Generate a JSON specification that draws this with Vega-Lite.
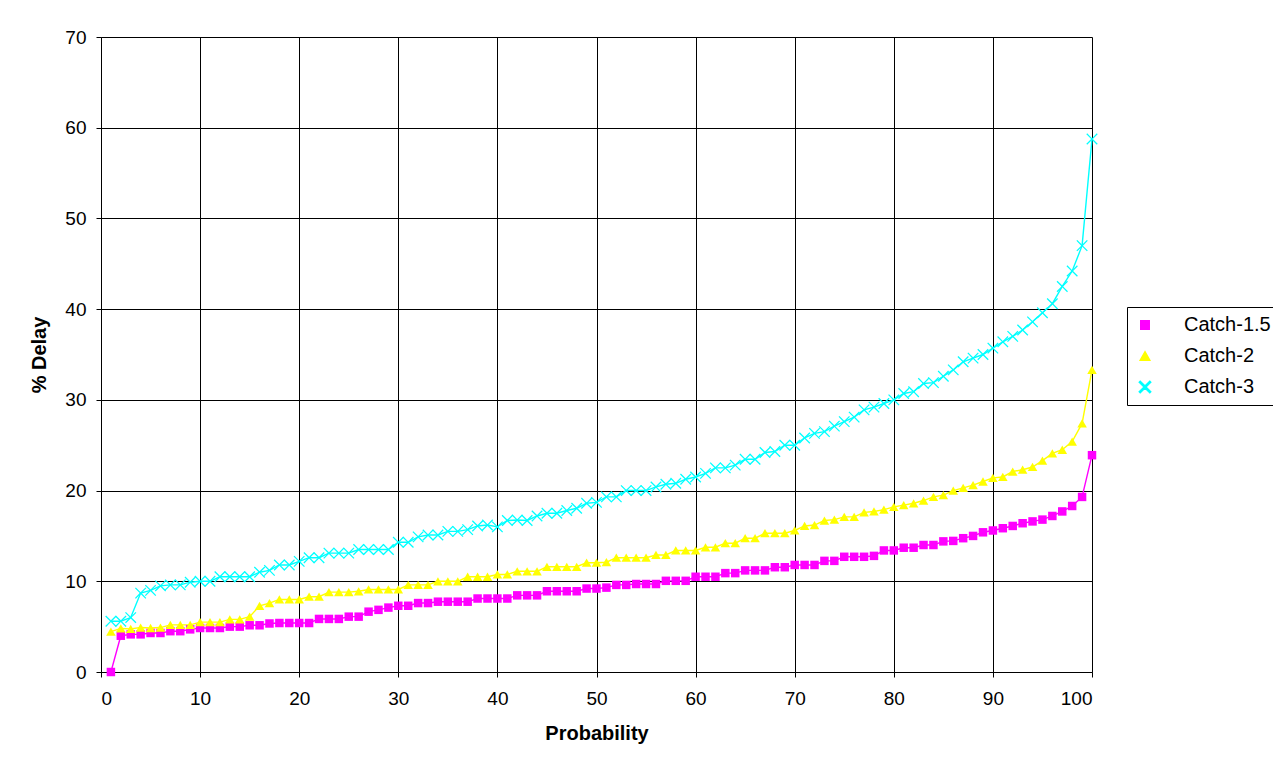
{
  "$schema": "https://vega.github.io/schema/vega-lite/v6.json",
  "width": 991,
  "height": 635,
  "autosize": {"type": "none"},
  "padding": {"left": 101, "top": 37, "right": 181, "bottom": 91},
  "background": "white",
  "config": {
    "font": "Liberation Sans",
    "view": {"stroke": null},
    "axis": {
      "grid": true,
      "gridColor": "#000000",
      "gridWidth": 1,
      "gridOpacity": 1,
      "domainColor": "#000000",
      "domainWidth": 1,
      "tickColor": "#000000",
      "tickSize": 5,
      "tickWidth": 1,
      "labelFont": "Liberation Sans",
      "labelFontSize": 19,
      "labelColor": "#000000",
      "titleFont": "Liberation Sans",
      "titleFontSize": 20,
      "titleFontWeight": "bold",
      "titleColor": "#000000"
    }
  },
  "data": {
    "values": [
      {"probability": 1, "c15": 0, "c2": 4.45, "c3": 5.6},
      {"probability": 2, "c15": 4.0, "c2": 4.8, "c3": 5.6},
      {"probability": 3, "c15": 4.15, "c2": 4.75, "c3": 6.0},
      {"probability": 4, "c15": 4.15, "c2": 4.9, "c3": 8.7},
      {"probability": 5, "c15": 4.3, "c2": 4.85, "c3": 9.0},
      {"probability": 6, "c15": 4.3, "c2": 4.9, "c3": 9.5},
      {"probability": 7, "c15": 4.5, "c2": 5.2, "c3": 9.6},
      {"probability": 8, "c15": 4.5, "c2": 5.2, "c3": 9.6},
      {"probability": 9, "c15": 4.7, "c2": 5.2, "c3": 9.9},
      {"probability": 10, "c15": 4.85, "c2": 5.5, "c3": 10.0},
      {"probability": 11, "c15": 4.85, "c2": 5.5, "c3": 10.0},
      {"probability": 12, "c15": 4.85, "c2": 5.5, "c3": 10.5},
      {"probability": 13, "c15": 5.0, "c2": 5.8, "c3": 10.5},
      {"probability": 14, "c15": 5.0, "c2": 5.8, "c3": 10.5},
      {"probability": 15, "c15": 5.15, "c2": 6.1, "c3": 10.5},
      {"probability": 16, "c15": 5.15, "c2": 7.3, "c3": 11.0},
      {"probability": 17, "c15": 5.35, "c2": 7.6, "c3": 11.2},
      {"probability": 18, "c15": 5.4, "c2": 8.0, "c3": 11.8},
      {"probability": 19, "c15": 5.4, "c2": 8.0, "c3": 11.8},
      {"probability": 20, "c15": 5.4, "c2": 8.0, "c3": 12.2},
      {"probability": 21, "c15": 5.4, "c2": 8.3, "c3": 12.6},
      {"probability": 22, "c15": 5.85, "c2": 8.3, "c3": 12.6},
      {"probability": 23, "c15": 5.85, "c2": 8.8, "c3": 13.1},
      {"probability": 24, "c15": 5.85, "c2": 8.8, "c3": 13.1},
      {"probability": 25, "c15": 6.1, "c2": 8.8, "c3": 13.1},
      {"probability": 26, "c15": 6.1, "c2": 8.9, "c3": 13.5},
      {"probability": 27, "c15": 6.65, "c2": 9.1, "c3": 13.5},
      {"probability": 28, "c15": 6.85, "c2": 9.1, "c3": 13.5},
      {"probability": 29, "c15": 7.1, "c2": 9.1, "c3": 13.5},
      {"probability": 30, "c15": 7.3, "c2": 9.1, "c3": 14.3},
      {"probability": 31, "c15": 7.3, "c2": 9.6, "c3": 14.3},
      {"probability": 32, "c15": 7.6, "c2": 9.6, "c3": 14.9},
      {"probability": 33, "c15": 7.6, "c2": 9.6, "c3": 15.1},
      {"probability": 34, "c15": 7.75, "c2": 10.0, "c3": 15.1},
      {"probability": 35, "c15": 7.75, "c2": 10.0, "c3": 15.5},
      {"probability": 36, "c15": 7.75, "c2": 10.0, "c3": 15.5},
      {"probability": 37, "c15": 7.75, "c2": 10.5, "c3": 15.7},
      {"probability": 38, "c15": 8.1, "c2": 10.5, "c3": 16.1},
      {"probability": 39, "c15": 8.1, "c2": 10.5, "c3": 16.2},
      {"probability": 40, "c15": 8.1, "c2": 10.75, "c3": 16.0},
      {"probability": 41, "c15": 8.1, "c2": 10.75, "c3": 16.7},
      {"probability": 42, "c15": 8.45, "c2": 11.1, "c3": 16.75},
      {"probability": 43, "c15": 8.45, "c2": 11.1, "c3": 16.7},
      {"probability": 44, "c15": 8.45, "c2": 11.1, "c3": 17.2},
      {"probability": 45, "c15": 8.9, "c2": 11.6, "c3": 17.5},
      {"probability": 46, "c15": 8.9, "c2": 11.6, "c3": 17.5},
      {"probability": 47, "c15": 8.9, "c2": 11.6, "c3": 17.8},
      {"probability": 48, "c15": 8.9, "c2": 11.6, "c3": 18.05},
      {"probability": 49, "c15": 9.2, "c2": 12.05, "c3": 18.6},
      {"probability": 50, "c15": 9.2, "c2": 12.05, "c3": 18.7},
      {"probability": 51, "c15": 9.3, "c2": 12.1, "c3": 19.3},
      {"probability": 52, "c15": 9.6, "c2": 12.6, "c3": 19.3},
      {"probability": 53, "c15": 9.6, "c2": 12.6, "c3": 20.0},
      {"probability": 54, "c15": 9.7, "c2": 12.6, "c3": 20.0},
      {"probability": 55, "c15": 9.7, "c2": 12.6, "c3": 20.0},
      {"probability": 56, "c15": 9.7, "c2": 12.9, "c3": 20.4},
      {"probability": 57, "c15": 10.05, "c2": 12.9, "c3": 20.7},
      {"probability": 58, "c15": 10.05, "c2": 13.4, "c3": 20.8},
      {"probability": 59, "c15": 10.05, "c2": 13.4, "c3": 21.25},
      {"probability": 60, "c15": 10.5, "c2": 13.4, "c3": 21.5},
      {"probability": 61, "c15": 10.5, "c2": 13.75, "c3": 21.9},
      {"probability": 62, "c15": 10.5, "c2": 13.75, "c3": 22.5},
      {"probability": 63, "c15": 10.9, "c2": 14.2, "c3": 22.5},
      {"probability": 64, "c15": 10.9, "c2": 14.2, "c3": 22.8},
      {"probability": 65, "c15": 11.2, "c2": 14.75, "c3": 23.45},
      {"probability": 66, "c15": 11.2, "c2": 14.75, "c3": 23.45},
      {"probability": 67, "c15": 11.2, "c2": 15.3, "c3": 24.2},
      {"probability": 68, "c15": 11.55, "c2": 15.3, "c3": 24.3},
      {"probability": 69, "c15": 11.55, "c2": 15.3, "c3": 25.0},
      {"probability": 70, "c15": 11.8, "c2": 15.6, "c3": 25.0},
      {"probability": 71, "c15": 11.8, "c2": 16.1, "c3": 25.8},
      {"probability": 72, "c15": 11.8, "c2": 16.2, "c3": 26.3},
      {"probability": 73, "c15": 12.25, "c2": 16.7, "c3": 26.5},
      {"probability": 74, "c15": 12.25, "c2": 16.8, "c3": 27.1},
      {"probability": 75, "c15": 12.7, "c2": 17.1, "c3": 27.6},
      {"probability": 76, "c15": 12.7, "c2": 17.1, "c3": 28.1},
      {"probability": 77, "c15": 12.7, "c2": 17.6, "c3": 28.9},
      {"probability": 78, "c15": 12.8, "c2": 17.7, "c3": 29.2},
      {"probability": 79, "c15": 13.4, "c2": 17.9, "c3": 29.6},
      {"probability": 80, "c15": 13.4, "c2": 18.2, "c3": 30.0},
      {"probability": 81, "c15": 13.7, "c2": 18.4, "c3": 30.7},
      {"probability": 82, "c15": 13.7, "c2": 18.6, "c3": 30.9},
      {"probability": 83, "c15": 14.0, "c2": 18.9, "c3": 31.8},
      {"probability": 84, "c15": 14.0, "c2": 19.3, "c3": 31.9},
      {"probability": 85, "c15": 14.4, "c2": 19.5, "c3": 32.6},
      {"probability": 86, "c15": 14.45, "c2": 20.0, "c3": 33.3},
      {"probability": 87, "c15": 14.75, "c2": 20.3, "c3": 34.2},
      {"probability": 88, "c15": 15.0, "c2": 20.6, "c3": 34.6},
      {"probability": 89, "c15": 15.4, "c2": 21.0, "c3": 35.0},
      {"probability": 90, "c15": 15.6, "c2": 21.4, "c3": 35.7},
      {"probability": 91, "c15": 15.85, "c2": 21.5, "c3": 36.4},
      {"probability": 92, "c15": 16.1, "c2": 22.1, "c3": 37.0},
      {"probability": 93, "c15": 16.4, "c2": 22.3, "c3": 37.7},
      {"probability": 94, "c15": 16.6, "c2": 22.6, "c3": 38.6},
      {"probability": 95, "c15": 16.8, "c2": 23.3, "c3": 39.6},
      {"probability": 96, "c15": 17.2, "c2": 24.1, "c3": 40.6},
      {"probability": 97, "c15": 17.7, "c2": 24.5, "c3": 42.5},
      {"probability": 98, "c15": 18.3, "c2": 25.4, "c3": 44.2},
      {"probability": 99, "c15": 19.3, "c2": 27.4, "c3": 47.0},
      {"probability": 100, "c15": 23.9, "c2": 33.3, "c3": 58.75}
    ]
  },
  "transform": [
    {"fold": ["c15", "c2", "c3"], "as": ["series", "delay"]}
  ],
  "encoding": {
    "x": {
      "field": "probability",
      "type": "quantitative",
      "title": "Probability",
      "scale": {"domain": [0, 100], "nice": false, "zero": false},
      "axis": {
        "values": [0, 10, 20, 30, 40, 50, 60, 70, 80, 90, 100],
        "labelPadding": 12,
        "titlePadding": 15
      }
    },
    "y": {
      "field": "delay",
      "type": "quantitative",
      "title": "% Delay",
      "scale": {"domain": [0, 70], "nice": false},
      "axis": {
        "values": [0, 10, 20, 30, 40, 50, 60, 70],
        "labelPadding": 10,
        "titlePadding": 15
      }
    },
    "color": {
      "field": "series",
      "type": "nominal",
      "scale": {
        "domain": ["c15", "c2", "c3"],
        "range": ["#ff00ff", "#ffff00", "#00ffff"]
      },
      "legend": {
        "title": null,
        "orient": "none",
        "legendX": 1026,
        "legendY": 270,
        "strokeColor": "#000000",
        "fillColor": "#ffffff",
        "padding": 8,
        "labelFont": "Liberation Sans",
        "labelFontSize": 20,
        "labelColor": "#000000",
        "labelOffset": 29,
        "labelLimit": 300,
        "rowPadding": 11,
        "symbolOpacity": 1,
        "labelExpr": "datum.value == 'c15' ? 'Catch-1.5' : datum.value == 'c2' ? 'Catch-2' : 'Catch-3'"
      }
    }
  },
  "layer": [
    {
      "mark": {"type": "line", "strokeWidth": 1.4},
      "encoding": {}
    },
    {
      "mark": {"type": "point", "filled": true, "opacity": 1},
      "encoding": {
        "shape": {
          "field": "series",
          "type": "nominal",
          "scale": {
            "domain": ["c15", "c2", "c3"],
            "range": [
              "square",
              "triangle-up",
              "M0,-0.17L0.915,-1.085L1.085,-0.915L0.17,0L1.085,0.915L0.915,1.085L0,0.17L-0.915,1.085L-1.085,0.915L-0.17,0L-1.085,-0.915L-0.915,-1.085Z"
            ]
          }
        },
        "size": {
          "field": "series",
          "type": "ordinal",
          "scale": {
            "domain": ["c15", "c2", "c3"],
            "range": [72, 110, 130]
          }
        }
      }
    }
  ]
}
